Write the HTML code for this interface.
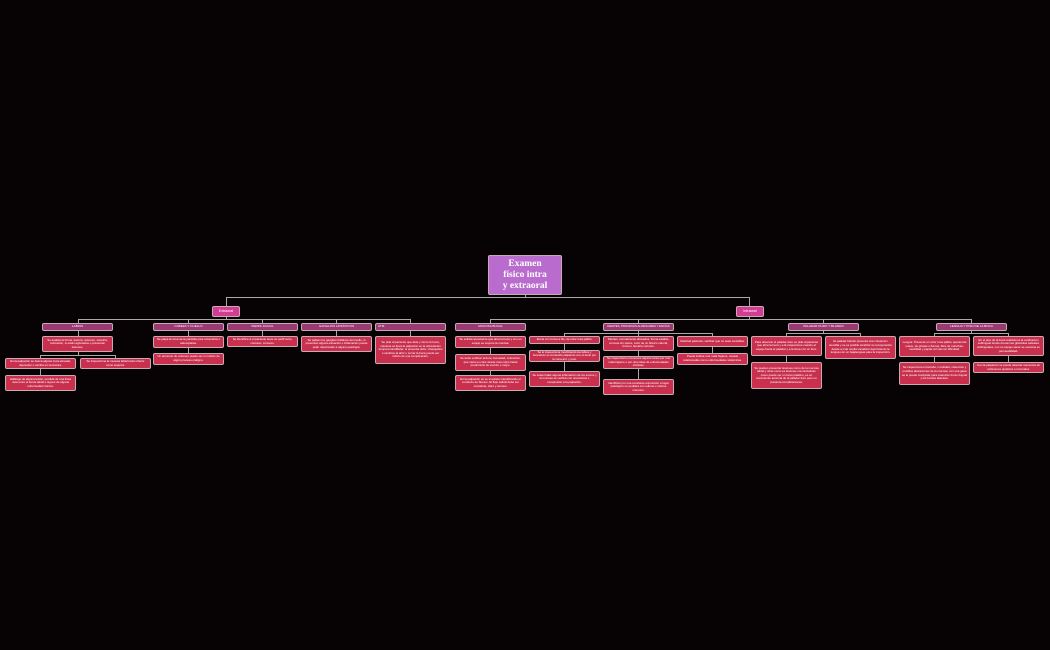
<!DOCTYPE html>
<html><head><meta charset="utf-8"><style>
html,body{margin:0;padding:0;background:#070204;width:1050px;height:650px;overflow:hidden;position:relative;font-family:"Liberation Sans",sans-serif}
.b{position:absolute;box-sizing:border-box;border:1px solid #c9a9b4;border-radius:2px;color:#fff;text-align:center;font-size:2.9px;line-height:3.6px;display:flex;align-items:center;justify-content:center;padding:0 2px;overflow:hidden}
.h{background:#9a3a72;height:8px;font-size:3.1px;white-space:nowrap}
.l{background:#c8304e}
.e{background:#d33c93;font-size:3.6px}
.ln{position:absolute;background:#a9a9a9}
.v{width:1px}.hz{height:1px}
</style></head><body>
<div class="ln v" style="left:525px;top:294px;height:4px"></div>
<div class="ln hz" style="left:226px;top:297px;width:524px"></div>
<div class="ln v" style="left:226px;top:297px;height:9px"></div>
<div class="ln v" style="left:749px;top:297px;height:9px"></div>
<div class="ln v" style="left:226px;top:316px;height:4px"></div>
<div class="ln hz" style="left:78px;top:319px;width:333px"></div>
<div class="ln v" style="left:78px;top:319px;height:4px"></div>
<div class="ln v" style="left:188px;top:319px;height:4px"></div>
<div class="ln v" style="left:262px;top:319px;height:4px"></div>
<div class="ln v" style="left:336px;top:319px;height:4px"></div>
<div class="ln v" style="left:410px;top:319px;height:4px"></div>
<div class="ln v" style="left:749px;top:316px;height:4px"></div>
<div class="ln hz" style="left:490px;top:319px;width:482px"></div>
<div class="ln v" style="left:490px;top:319px;height:4px"></div>
<div class="ln v" style="left:638px;top:319px;height:4px"></div>
<div class="ln v" style="left:823px;top:319px;height:4px"></div>
<div class="ln v" style="left:971px;top:319px;height:4px"></div>
<div class="ln v" style="left:78px;top:330px;height:6px"></div>
<div class="ln v" style="left:78px;top:352px;height:3px"></div>
<div class="ln hz" style="left:40px;top:355px;width:76px"></div>
<div class="ln v" style="left:40px;top:355px;height:3px"></div>
<div class="ln v" style="left:115px;top:355px;height:3px"></div>
<div class="ln v" style="left:40px;top:369px;height:6px"></div>
<div class="ln v" style="left:188px;top:330px;height:23px"></div>
<div class="ln v" style="left:262px;top:330px;height:6px"></div>
<div class="ln v" style="left:336px;top:330px;height:6px"></div>
<div class="ln v" style="left:410px;top:330px;height:6px"></div>
<div class="ln v" style="left:490px;top:330px;height:45px"></div>
<div class="ln v" style="left:638px;top:330px;height:3px"></div>
<div class="ln hz" style="left:564px;top:333px;width:149px"></div>
<div class="ln v" style="left:564px;top:333px;height:38px"></div>
<div class="ln v" style="left:638px;top:333px;height:46px"></div>
<div class="ln v" style="left:712px;top:333px;height:20px"></div>
<div class="ln v" style="left:823px;top:330px;height:3px"></div>
<div class="ln hz" style="left:786px;top:333px;width:75px"></div>
<div class="ln v" style="left:786px;top:333px;height:29px"></div>
<div class="ln v" style="left:860px;top:333px;height:3px"></div>
<div class="ln v" style="left:971px;top:330px;height:3px"></div>
<div class="ln hz" style="left:934px;top:333px;width:75px"></div>
<div class="ln v" style="left:934px;top:333px;height:29px"></div>
<div class="ln v" style="left:1008px;top:333px;height:29px"></div>

<div class="b" style="left:488px;top:255px;width:74px;height:40px;background:#b96ccd;font-family:'Liberation Serif',serif;font-weight:bold;font-size:9.5px;line-height:11px;padding:0 12px">Examen físico intra y extraoral</div>
<div class="b e" style="left:212px;top:306px;width:28px;height:11px">Extraoral</div>
<div class="b e" style="left:736px;top:306px;width:28px;height:11px">Intraoral</div>

<div class="b h" style="left:42px;top:323px;width:71px">LABIOS</div>
<div class="b h" style="left:153px;top:323px;width:71px">CABEZA Y CUELLO</div>
<div class="b h" style="left:227px;top:323px;width:71px">PERFIL FACIAL</div>
<div class="b h" style="left:301px;top:323px;width:71px">GANGLIOS LINFÁTICOS</div>
<div class="b h" style="left:375px;top:323px;width:71px;justify-content:flex-start">ATM</div>
<div class="b h" style="left:455px;top:323px;width:71px">MUCOSA BUCAL</div>
<div class="b h" style="left:603px;top:323px;width:71px;font-size:2.8px">DIENTES, PROCESOS ALVEOLARES Y ENCÍAS</div>
<div class="b h" style="left:788px;top:323px;width:71px">PALADAR DURO Y BLANDO</div>
<div class="b h" style="left:936px;top:323px;width:71px">LENGUA Y PISO DE LA BOCA</div>

<div class="b l" style="left:42px;top:336px;width:71px;height:16px">Se analiza la forma, textura, volumen, simetría, coloración, si están agrietados o presentan lesiones.</div>
<div class="b l" style="left:5px;top:358px;width:71px;height:11px">En la palpación se busca alguna zona elevada, depresión o cambio en la textura.</div>
<div class="b l" style="left:80px;top:358px;width:71px;height:11px">Se inspecciona la mucosa labial tanto inferior como superior.</div>
<div class="b l" style="left:5px;top:375px;width:71px;height:16px">Hallazgo de alguna lesión, pérdida de una línea neta entre el borde labial o signos de alguna enfermedad crónica.</div>

<div class="b l" style="left:153px;top:336px;width:71px;height:12px">Se palpa la zona de la parótida para volumetría o adenopatías.</div>
<div class="b l" style="left:153px;top:353px;width:71px;height:12px">Un aumento de volumen puede ser un indicio de algún proceso maligno.</div>
<div class="b l" style="left:227px;top:336px;width:71px;height:11px">Se identifica si el paciente tiene un perfil recto, cóncavo, convexo.</div>
<div class="b l" style="left:301px;top:336px;width:71px;height:16px">Se palpan los ganglios linfáticos del cuello, si presentan alguna elevación o inflamación puede estar relacionado a alguna patología.</div>
<div class="b l" style="left:375px;top:336px;width:71px;height:28px">Se pide al paciente que abra y cierre la boca, mientras se lleva la palpación en la articulación temporomandibular, si presenta dolor, chasquidos o cambios al abrir o cerrar la boca puede ser indicio de una complicación.</div>

<div class="b l" style="left:455px;top:336px;width:71px;height:12px">Se solicita al paciente que abra la boca y con un espejo se expone la mucosa.</div>
<div class="b l" style="left:455px;top:354px;width:71px;height:17px">Se debe verificar textura, humedad, coloración, que varía su color desde rosa rojizo hasta predominio de marrón o negro.</div>
<div class="b l" style="left:455px;top:375px;width:71px;height:16px">En la palpación se ve si existen identificando el conducto de Stenon. El flujo salival debe ser constante, claro y acuoso.</div>

<div class="b l" style="left:529px;top:336px;width:71px;height:8px">Encía con forma a filo, de color rosa pálido.</div>
<div class="b l" style="left:529px;top:350px;width:71px;height:12px">Se le inspecciona movilizando los labios y buscando su contenido palpando con el dedo por la zona ant. y post.</div>
<div class="b l" style="left:529px;top:371px;width:71px;height:16px">Se suele hallar alguna inflamación de los surcos y la mucosa se verifica con una lámina o compresión a la palpación.</div>
<div class="b l" style="left:603px;top:336px;width:71px;height:15px">Dientes: normalmente alineados, forma estable, coronas sin caries, color de un blanco natural, forma o tamaño correcto.</div>
<div class="b l" style="left:603px;top:356px;width:71px;height:13px">Se inspecciona si tenemos alguna caries por una mala higiene o por otra clase de enfermedades crónicas.</div>
<div class="b l" style="left:603px;top:379px;width:71px;height:16px">Identificar por una constante exposición a lugar patológico un pediatra con rellena o índices menores.</div>
<div class="b l" style="left:677px;top:336px;width:71px;height:11px">Solicitud paciente; verificar que no sean sensibles.</div>
<div class="b l" style="left:677px;top:353px;width:71px;height:12px">Puede indicar una mala higiene, causas relacionadas como enfermedades sistémicas.</div>

<div class="b l" style="left:751px;top:336px;width:71px;height:20px">Para observar el paladar duro se pide al paciente que abra la boca y a la inspeccione cuando el espejo hacia el paladar y a la línea con un foco.</div>
<div class="b l" style="left:751px;top:362px;width:71px;height:27px">Se pueden presentar lesiones como de la mucosa labial y otras como es lesiones comunicativas como puede ser un torus palatino, es un crecimiento anormal de al paladar duro pero no presenta complicaciones.</div>
<div class="b l" style="left:825px;top:336px;width:71px;height:23px">El paladar blando presenta una coloración amarilla y se es posible localizar su recuperación desde a más media visualizar deprimiendo la lengua con un bajalenguas para la inspección.</div>

<div class="b l" style="left:899px;top:336px;width:71px;height:21px">Lengua: Presenta un color rosa pálido, apariencia suave, de grietas o fisuras, libre de manchas, movilidad y papila normas sin dificultad.</div>
<div class="b l" style="left:899px;top:362px;width:71px;height:23px">Se inspecciona el tamaño, movilidad, obtención y posibles alteraciones de la mucosa, con una gasa se le puede manipular para examinar dorso lingual y los bordes laterales.</div>
<div class="b l" style="left:973px;top:336px;width:71px;height:20px">En el piso de la boca realizamos la verificación sublingual donde drenan las glándulas salivales sublinguales, con un espejo sacar se examina su permeabilidad.</div>
<div class="b l" style="left:973px;top:362px;width:71px;height:11px">Con la palpación se puede detectar aumentos de volúmenes quísticos o tumorales.</div>
</body></html>
